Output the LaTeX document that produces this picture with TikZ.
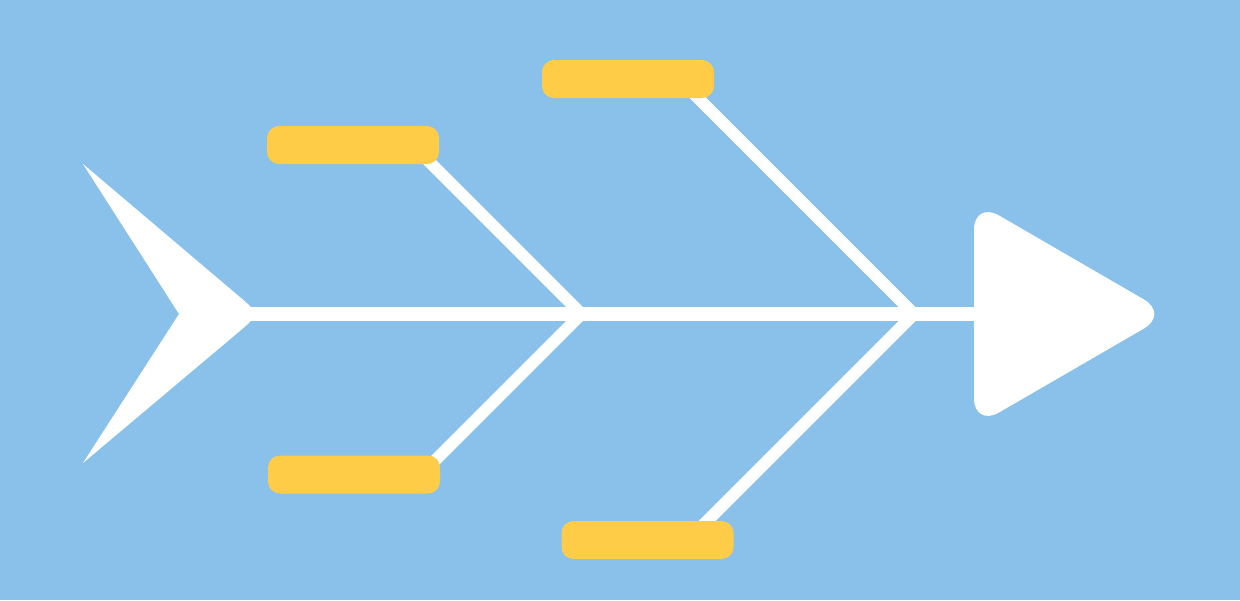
\documentclass[tikz,border=0pt]{standalone}
\usetikzlibrary{calc}
\definecolor{bgblue}{HTML}{89C1EA}
\definecolor{boxyellow}{HTML}{FFCC47}
\begin{document}
\begin{tikzpicture}[x=1pt,y=-1pt,
  cause/.style={fill=boxyellow, draw=none, rounded corners=12pt,
    minimum width=172pt, minimum height=38pt, inner sep=0pt},
  bone/.style={draw=white, line width=12pt, line cap=butt, line join=miter},
  spine/.style={draw=white, line width=14pt, line cap=butt}]
  \useasboundingbox (0,0) rectangle (1240,600);
  \fill[bgblue] (0,0) rectangle (1240,600);
  % junctions and bone ends
  \coordinate (j1) at (581.5,314);
  \coordinate (j2) at (914,314);
  \coordinate (tailend) at (240,314);
  \coordinate (headstart) at (985,314);
  % spine
  \draw[spine] (tailend) -- (headstart);
  % tail
  \fill[white] (83,164) -- (237,294.6) .. controls (260,314) .. (237,333.4)
     -- (83,463) -- (179,314) -- cycle;
  % head
  \fill[white, rounded corners=29pt] (974,314) -- (974,201) -- (1169,314)
     -- (974,427) -- cycle;
  % bones
  \draw[bone] ($(j1)+(-170,-170)$) -- (j1) -- ($(j1)+(-161,161)$);
  \draw[bone] ($(j2)+(-235,-235)$) -- (j2) -- ($(j2)+(-226,226)$);
  % cause boxes
  \node[cause] (b1) at (353,145) {};
  \node[cause] (b2) at (354,474.5) {};
  \node[cause] (b3) at (628,79) {};
  \node[cause] (b4) at (647.5,540) {};
\end{tikzpicture}
\end{document}
